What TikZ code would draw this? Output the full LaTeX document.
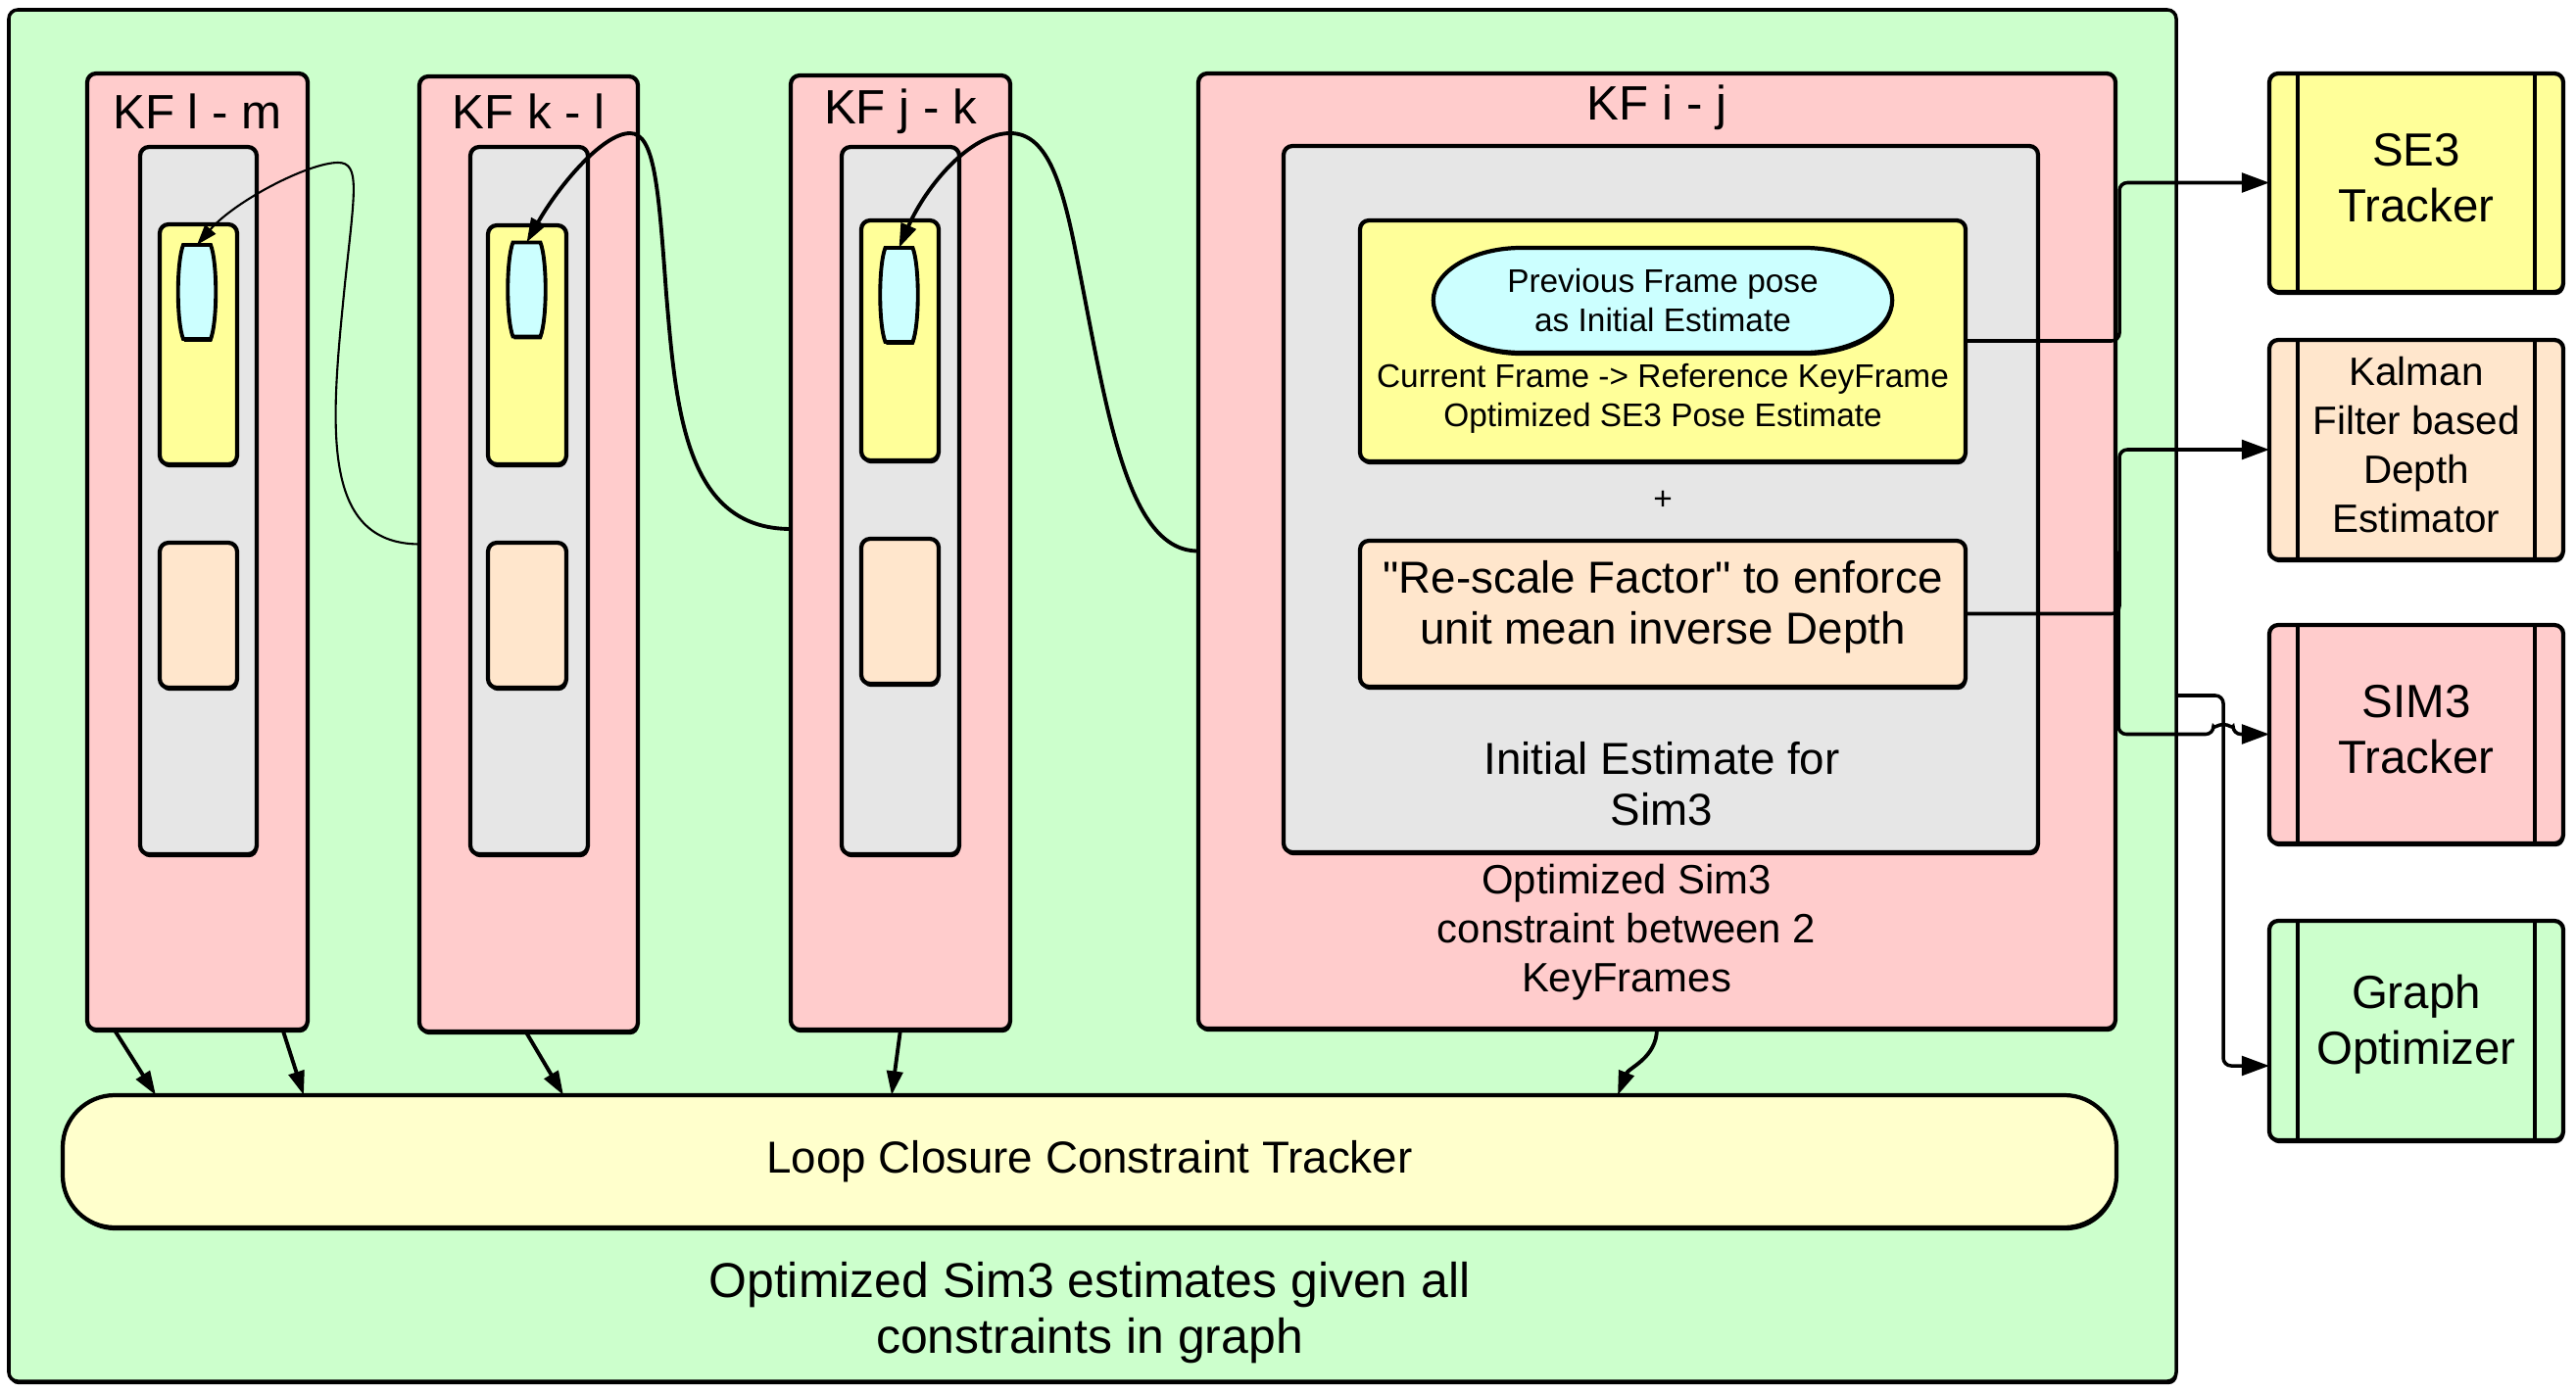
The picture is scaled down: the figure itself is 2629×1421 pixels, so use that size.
\documentclass[tikz,border=0pt]{standalone}
\usepackage{fontspec}
\setmainfont{Liberation Sans}[Ligatures=TeXOff]
\usetikzlibrary{arrows.meta,shadows,fit,calc}
\definecolor{cgreen}{HTML}{CCFFCC}
\definecolor{cpink}{HTML}{FFCCCC}
\definecolor{cgrey}{HTML}{E6E6E6}
\definecolor{cyel}{HTML}{FFFF99}
\definecolor{ccyan}{HTML}{CCFFFF}
\definecolor{cpeach}{HTML}{FFE6CC}
\definecolor{clct}{HTML}{FFFFCC}
\newcommand\mybarrel[3]{%
  \node[inner sep=0pt, outer sep=0pt, minimum width=0.28cm, minimum height=0.96cm] (#1) at (#2,#3) {};
  \draw[line width=1.1pt, fill=ccyan, drop shadow={shadow xshift=0.3pt, shadow yshift=-0.8pt, opacity=1, fill=black}]
    (#1.north west) -- (#1.north east)
    .. controls ($(#1.north east)+(7,18)$) and ($(#1.south east)+(7,-18)$) .. (#1.south east)
    -- (#1.south west)
    .. controls ($(#1.south west)+(-7,-18)$) and ($(#1.north west)+(-7,18)$) .. (#1.north west) -- cycle;}
\begin{document}
\begin{tikzpicture}[x=0.01cm,y=-0.01cm,
  bx/.style={draw=black, line width=1.2pt, rounded corners=0.09cm, inner sep=0pt, outer sep=0pt,
    drop shadow={shadow xshift=0.3pt, shadow yshift=-0.9pt, opacity=1, fill=black}},
  ttl/.style={font=\fontsize{14}{16}\selectfont, inner sep=0pt},
  sm/.style={font=\fontsize{9.5}{11.3}\selectfont, align=center, inner sep=0pt},
  md/.style={font=\fontsize{13}{14.8}\selectfont, align=center, inner sep=0pt},
  md2/.style={font=\fontsize{11.9}{14.2}\selectfont, align=center, inner sep=0pt},
  rb/.style={font=\fontsize{13.5}{16.3}\selectfont, align=center, inner sep=0pt},
  kb/.style={font=\fontsize{11.5}{14.2}\selectfont, align=center, inner sep=0pt},
  bg/.style={font=\fontsize{14.2}{16.2}\selectfont, align=center, inner sep=0pt},
  conn/.style={line width=1.1pt, -{Triangle[length=7pt,width=4.6pt]}},
  thinconn/.style={line width=0.6pt, -{Triangle[length=6pt,width=4pt]}},
  rconn/.style={line width=1pt, rounded corners=0.08cm, -{Triangle[length=8pt,width=5.6pt]}}]
\fill[white] (0,0) rectangle (2629,1421);
\useasboundingbox (0,0) rectangle (2629,1421);

% outer container
\node[bx, fill=cgreen, line width=1pt, fit={(9,10) (2221,1410)}] (outer) {};

% KF l - m
\node[bx, fill=cpink, fit={(89,75) (314,1051)}] (kflm) {};
\node[bx, fill=cgrey, fit={(143,150) (262,872)}] (grlm) {};
\node[bx, fill=cyel, fit={(163,229) (242,474)}] (yllm) {};
\node[bx, fill=cpeach, fit={(163,554) (242,702)}] (pclm) {};
\mybarrel{cylm}{201}{298}
% KF k - l
\node[bx, fill=cpink, fit={(428,78) (651,1053)}] (kfkl) {};
\node[bx, fill=cgrey, fit={(480,150) (600,872)}] (grkl) {};
\node[bx, fill=cyel, fit={(498,230) (578,474)}] (ylkl) {};
\node[bx, fill=cpeach, fit={(498,554) (578,702)}] (pckl) {};
\mybarrel{cykl}{537.5}{295.5}
% KF j - k
\node[bx, fill=cpink, fit={(807,77) (1031,1051)}] (kfjk) {};
\node[bx, fill=cgrey, fit={(859,150) (979,872)}] (grjk) {};
\node[bx, fill=cyel, fit={(879,225) (958,470)}] (yljk) {};
\node[bx, fill=cpeach, fit={(879,550) (958,698)}] (pcjk) {};
\mybarrel{cyjk}{917.5}{301}
% KF i - j
\node[bx, fill=cpink, fit={(1223,75) (2159,1050)}] (kfij) {};
\node[bx, fill=cgrey, fit={(1310,149) (2080,870)}] (grij) {};
\node[bx, fill=cyel, fit={(1388,225) (2006,471)}] (ylij) {};
\node[bx, fill=cpeach, fit={(1388,552) (2006,701)}] (pcij) {};
\node[inner sep=0pt, outer sep=0pt, minimum width=4.68cm, minimum height=1.07cm] (prev) at (1697,306.5) {};
\draw[line width=1.2pt, fill=ccyan, drop shadow={shadow xshift=0.3pt, shadow yshift=-0.9pt, opacity=1, fill=black}]
  ($(prev.north west)+(90,0)$) -- ($(prev.north east)+(-90,0)$)
  arc[start angle=90, end angle=-90, x radius=0.9cm, y radius=0.535cm]
  -- ($(prev.south west)+(90,0)$)
  arc[start angle=270, end angle=90, x radius=0.9cm, y radius=0.535cm] -- cycle;

% loop closure
\node[bx, fill=clct, rounded corners=0.53cm, fit={(64,1118) (2160,1253)}] (lct) {};

% right blocks
\node[bx, fill=cyel, fit={(2316,75) (2616,298)}] (se3) {};
\node[bx, fill=cpeach, fit={(2316,347) (2616,571)}] (kal) {};
\node[bx, fill=cpink, fit={(2316,638) (2616,861)}] (sim3) {};
\node[bx, fill=cgreen, fit={(2316,940) (2616,1164)}] (graph) {};
\foreach \n in {se3,kal,sim3,graph}
  \draw[line width=1.2pt] ($(\n.north west)+(29,0)$) -- ($(\n.south west)+(29,0)$)
                          ($(\n.north east)+(-29,0)$) -- ($(\n.south east)+(-29,0)$);

% texts
\node[ttl] (tlm) at (201.5,114) {KF l - m};
\node[ttl] (tkl) at (539.5,114) {KF k - l};
\node[ttl] (tjk) at (919,114) {KF j - k};
\node[ttl] (tij) at (1691,110) {KF i - j};
\node[sm] (prevtxt) at (prev.center) {Previous Frame pose\\as Initial Estimate};
\node[sm] (curtxt) at (1697,407) {Current Frame -> Reference KeyFrame\\Optimized SE3 Pose Estimate};
\node[sm] (plus) at (1697,511) {+};
\node[md] (resctxt) at (1697,620) {"Re-scale Factor" to enforce\\unit mean inverse Depth};
\node[md] (inittxt) at (1696,800) {Initial Estimate for\\Sim3};
\node[md2] (opttxt) at (1660,952) {Optimized Sim3\\constraint between 2\\KeyFrames};
\node[md] (lcttxt) at (lct.center) {Loop Closure Constraint Tracker};
\node[bg] (bottxt) at (1112,1340) {Optimized Sim3 estimates given all\\constraints in graph};
\node[rb] (se3txt) at ($(se3.center)+(0,-5)$) {SE3\\Tracker};
\node[kb] (kaltxt) at ($(kal.center)+(0,-5)$) {Kalman\\Filter based\\Depth\\Estimator};
\node[rb] (sim3txt) at ($(sim3.center)+(0,-5)$) {SIM3\\Tracker};
\node[rb] (graphtxt) at ($(graph.center)+(0,-6)$) {Graph\\Optimizer};

% curves between keyframes
\draw[thinconn] ($(kfkl.west)+(0,-10)$) .. controls (325,555) and (338,430) .. (352,290)
  .. controls (362,195) and (368,166) .. (345,166) .. controls (315,166) and (240,205) .. (cylm.north);
\draw[conn] ($(kfjk.west)+(0,-24)$) .. controls (700,540) and (690,420) .. (680,300)
  .. controls (672,190) and (668,136) .. (643,136) .. controls (615,136) and (570,190) .. (cykl.north);
\draw[conn] (kfij.west) .. controls (1150,563) and (1130,420) .. (1100,268)
  .. controls (1085,190) and (1070,136) .. (1031,136) .. controls (990,136) and (945,190) .. (cyjk.north);

% arrows to loop closure
\draw[conn] ($(kflm.south)+(-85,0)$) -- ($(lct.north)+(-953,0)$);
\draw[conn] ($(kflm.south)+(87,0)$) -- ($(lct.north)+(-802,0)$);
\draw[conn] ($(kfkl.south)+(-3,0)$) -- ($(lct.north)+(-537,0)$);
\draw[conn] (kfjk.south) -- ($(lct.north)+(-202,0)$);
\draw[conn] (kfij.south) .. controls ($(kfij.south)+(0,30)$) and ($(lct.north)+(550,-28)$) .. ($(lct.north)+(539,0)$);

% right-side connectors
\coordinate (bus) at (2163,0);
\coordinate (gbus) at (2269,0);
\draw[rconn] (ylij.east) -| (bus |- se3.west) -- (se3.west);
\draw[rconn] (pcij.east) -| (bus |- kal.west) -- (kal.west);
\draw[rconn] ($(kfij.east)+(3,0)$) |- ($(gbus |- sim3.west)+(-10,0)$)
  arc[start angle=180, end angle=0, radius=0.1cm] -- (sim3.west);
\draw[rconn] (outer.east) -| ($(gbus |- graph.west)+(0,36)$) -- ($(graph.west)+(0,36)$);
\end{tikzpicture}
\end{document}
